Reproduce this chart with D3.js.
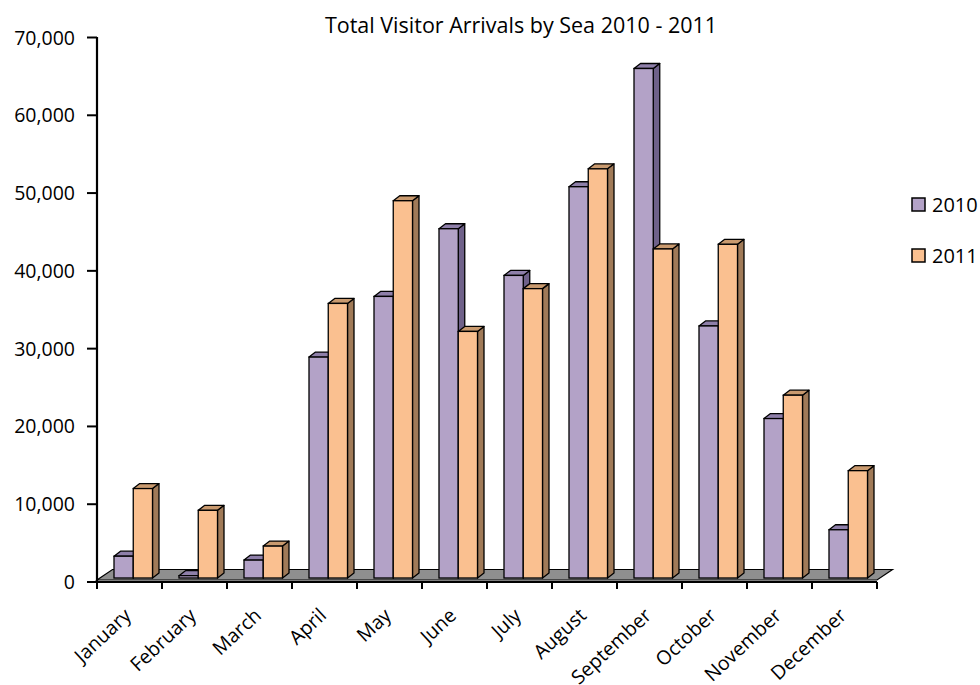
<!DOCTYPE html>
<html>
<head>
<meta charset="utf-8">
<script src="https://cdn.jsdelivr.net/npm/d3@7"></script>
<style>
  html, body { margin: 0; padding: 0; background: #fff; }
  text { font-family: "Open Sans", Lato, sans-serif; fill: #000; }
</style>
</head>
<body>
<svg id="chart" width="980" height="685"></svg>
<script>
const months = ["January","February","March","April","May","June","July","August","September","October","November","December"];
const seriesNames = ["2010","2011"];
const values2010 = [2800, 300, 2300, 28400, 36200, 44900, 38900, 50300, 65500, 32400, 20500, 6200];
const values2011 = [11500, 8700, 4100, 35300, 48500, 31700, 37200, 52600, 42300, 42900, 23500, 13800];
const yTicks = [0, 10000, 20000, 30000, 40000, 50000, 60000, 70000];
const title = "Total Visitor Arrivals by Sea 2010 - 2011";

const faceColors = {
  "2010": { front: "#B3A2C7", top: "#8E7FA9", side: "#6F6189" },
  "2011": { front: "#FAC090", top: "#C99A6F", side: "#A07A58" }
};

const svg = d3.select("#chart");

const x = d3.scaleBand().domain(months).range([97, 877]).padding(0);
const xs = d3.scaleBand().domain(seriesNames).range([17, 55.5]).padding(0);
const y = d3.scaleLinear().domain([0, 70000]).range([581.5, 37]);
const floorShift = 3.5;
const depthX = 6.5, depthY = 5;

// title
svg.append("text")
  .attr("x", 521).attr("y", 33)
  .attr("text-anchor", "middle")
  .style("font-size", "21.5px")
  .text(title);

// floor
const fl = { x0: 97, x1: 877, yF: 580, dx: 15.5, dy: 10.5 };
svg.append("path")
  .attr("d", `M${fl.x0},${fl.yF} L${fl.x1},${fl.yF} L${fl.x1 + fl.dx},${fl.yF - fl.dy} L${fl.x0 + fl.dx},${fl.yF - fl.dy} Z`)
  .attr("fill", "#8f8f8f")
  .attr("stroke", "#000")
  .attr("stroke-width", 1.2);

// bars
const data = [];
months.forEach((m, i) => {
  data.push({ month: m, series: "2010", value: values2010[i] });
  data.push({ month: m, series: "2011", value: values2011[i] });
});

const bars = svg.append("g").selectAll("g.bar").data(data).join("g").attr("class", "bar");
bars.each(function(d) {
  const g = d3.select(this);
  const x0 = x(d.month) + xs(d.series);
  const w = xs.bandwidth();
  const yTop = y(d.value) - floorShift;
  const yBot = y(0) - floorShift;
  const c = faceColors[d.series];
  g.append("path")
    .attr("d", `M${x0 + w},${yBot} L${x0 + w + depthX},${yBot - depthY} L${x0 + w + depthX},${yTop - depthY} L${x0 + w},${yTop} Z`)
    .attr("fill", c.side).attr("stroke", "#000").attr("stroke-width", 1.3).attr("stroke-linejoin", "round");
  g.append("path")
    .attr("d", `M${x0},${yTop} L${x0 + depthX},${yTop - depthY} L${x0 + w + depthX},${yTop - depthY} L${x0 + w},${yTop} Z`)
    .attr("fill", c.top).attr("stroke", "#000").attr("stroke-width", 1.3).attr("stroke-linejoin", "round");
  g.append("rect")
    .attr("x", x0).attr("y", yTop)
    .attr("width", w).attr("height", Math.max(0, yBot - yTop))
    .attr("fill", c.front).attr("stroke", "#000").attr("stroke-width", 1.3);
});

// y axis
const yAxis = d3.axisLeft(y).tickValues(yTicks).tickSize(10).tickPadding(12)
  .tickFormat(d3.format(","));
const gy = svg.append("g").attr("transform", "translate(97,0)").call(yAxis);
gy.select(".domain").attr("stroke", "#000").attr("stroke-width", 2.2).attr("d", "M0,37V582.5");
gy.selectAll(".tick line").attr("stroke", "#000").attr("stroke-width", 2);
gy.selectAll(".tick text").style("font-size", "19.5px").attr("dy", "0.36em");

// x axis
const xAxis = d3.axisBottom(x).tickSize(0).tickFormat("");
const gx = svg.append("g").attr("transform", "translate(0,582)").call(xAxis);
gx.select(".domain").attr("stroke", "#000").attr("stroke-width", 2).attr("d", "M97,0H877");
const boundaries = months.map(m => x(m)).concat([x.range()[1]]);
gx.selectAll("line.bound").data(boundaries).join("line").attr("class", "bound")
  .attr("x1", d => d).attr("x2", d => d).attr("y1", 0).attr("y2", 7)
  .attr("stroke", "#000").attr("stroke-width", 2);
gx.selectAll("text.lab").data(months).join("text").attr("class", "lab")
  .attr("text-anchor", "end")
  .style("font-size", "19.5px")
  .attr("transform", d => `translate(${x(d) + x.bandwidth() / 2 + 3},${35}) rotate(-43)`)
  .text(d => d);

// legend
const legend = svg.append("g").selectAll("g").data(seriesNames).join("g")
  .attr("transform", (d, i) => `translate(912,${198 + i * 51})`);
legend.append("rect").attr("width", 13).attr("height", 13)
  .attr("fill", d => faceColors[d].front).attr("stroke", "#000").attr("stroke-width", 1.5);
legend.append("text").attr("x", 20).attr("y", 14)
  .style("font-size", "20px").text(d => d);
</script>
</body>
</html>
